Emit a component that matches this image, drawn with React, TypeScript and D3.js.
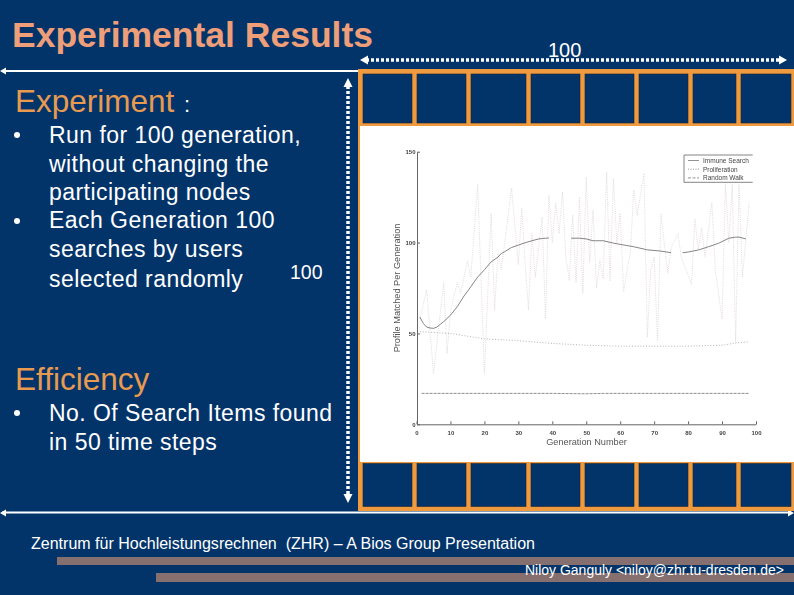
import React, { useEffect, useRef } from 'react';
import * as d3 from 'd3';

const bodyLines = [
  'Run for 100 generation,',
  'without changing the',
  'participating nodes',
  'Each Generation 100',
  'searches by users',
  'selected randomly',
];
const efficiencyLines = ['No. Of Search Items found', 'in 50 time steps'];
const xTicks = [0, 10, 20, 30, 40, 50, 60, 70, 80, 90, 100];
const yTicks = [0, 50, 100, 150];
const legendLabels = ['Immune Search', 'Proliferation', 'Random Walk'];

// the gaps are where the curve disappears behind the noise
const immuneGens = [1, 2, 3, 4, 5, 6, 7, 8, 10, 12, 14, 16, 18, 20, 22, 24, 25, 26, 28, 30, 32, 34, 36, 38, 39];
const immuneVals = [59, 55.5, 53.5, 53, 52.8, 53.5, 55, 56.5, 60, 64.7, 70.6, 75.7, 81, 85, 89.4, 92, 94, 95, 97.3, 98.6, 99.9, 101, 102, 102.4, 102.5];
const immuneGens2 = [45.6, 48, 50, 52, 55, 58, 60, 64, 68, 72, 75];
const immuneVals2 = [102.4, 102.4, 102, 101, 101, 99.7, 99, 97.7, 96, 95.3, 94.4];
const immuneGens3 = [78.4, 80, 83, 86, 89, 92, 94, 95, 97];
const immuneVals3 = [94.4, 94.8, 95.9, 97.7, 99.6, 102.4, 103, 103, 102];

const noisyGens = [1, 3, 5, 8, 9, 10, 12, 13, 15, 16, 18, 20, 22, 23, 24, 25, 28, 30, 31, 32, 33, 34, 35, 37, 38, 39, 40, 41, 42, 43, 44, 45, 46, 47, 48, 49, 50, 51, 52, 53, 54, 55, 56, 57, 58, 59, 60, 61, 63, 64, 65, 67, 68, 69, 70, 71, 72, 74, 75, 77, 78, 81, 82, 83, 84, 85, 87, 88, 90, 91, 92, 93, 94, 95, 96, 98];
const noisyVals = [58, 74, 28, 78, 39, 62, 78, 72, 90, 81, 132, 28, 116, 63, 94, 85, 130, 88, 119, 88, 63, 105, 81, 114, 58, 126, 100, 122, 105, 128, 92, 79, 115, 78, 125, 72, 136, 89, 118, 75, 90, 80, 139, 79, 135, 100, 116, 73, 95, 129, 115, 138, 48, 85, 92, 46, 116, 83, 97, 105, 92, 77, 113, 96, 108, 92, 122, 85, 58, 132, 100, 132, 45, 132, 81, 122];

const flatGens = [1, 10, 20, 30, 40, 50, 60, 70, 80, 90, 94, 98];
const flatVals = [51, 50, 47, 46, 44.5, 43.5, 43, 43, 43, 43.5, 44.7, 45.5];

const walkGens = [1.5, 20, 40, 50, 55, 70, 98];
const walkVals = [17, 17, 17, 16.8, 17, 17, 17];

const cellEdges = [363, 412, 417, 466, 471, 526, 531, 580, 585, 634, 639, 688, 693, 736, 741, 791];

const NAVY = '#02346a';
const ORANGE = '#f09a40';
const BODY = 'Liberation Sans, Arial, sans-serif';

export default function App() {
  const svgRef = useRef<SVGSVGElement>(null);

  useEffect(() => {
    if (!svgRef.current) return;
    const svg = d3.select(svgRef.current);
    svg.selectAll('*').remove();
    svg.attr('font-family', BODY);

    const defs = svg.append('defs');
    defs.append('filter').attr('id', 'soft').append('feGaussianBlur').attr('stdDeviation', 0.3);

    svg.append('rect').attr('width', 794).attr('height', 595).attr('fill', NAVY);

    // slide text
    const text = (x: number, y: number, s: string, size: number, fill = '#fff') =>
      svg.append('text').attr('x', x).attr('y', y).attr('font-size', size).attr('fill', fill).text(s);

    text(12, 47, 'Experimental Results', 35.5, '#ee9e78').attr('font-weight', 'bold');
    text(15, 112, 'Experiment', 31.5, '#e89a50');
    text(184, 112, ':', 22);
    const baselines = [143, 172, 200, 228, 257, 287];
    bodyLines.forEach((l, i) => text(49, baselines[i], l, 23, '#fff').attr('letter-spacing', 0.45));
    text(290, 279, '100', 19.5);
    text(15, 390, 'Efficiency', 31.5, '#e89a50');
    text(49, 421, efficiencyLines[0], 23).attr('letter-spacing', 0.45);
    text(49, 450, efficiencyLines[1], 23).attr('letter-spacing', 0.45);
    [135, 221, 413].forEach(y => svg.append('circle').attr('cx', 17).attr('cy', y).attr('r', 3).attr('fill', '#fff'));
    text(548, 57, '100', 20);

    // rules and arrows
    const arrow = (pts: [number, number][]) =>
      svg.append('path').attr('d', d3.line()(pts) + 'Z').attr('fill', '#fff');
    svg.append('line').attr('x1', 2).attr('x2', 360).attr('y1', 71).attr('y2', 71).attr('stroke', '#fff').attr('stroke-width', 2);
    svg.append('line').attr('x1', 2).attr('x2', 790).attr('y1', 512.5).attr('y2', 512.5).attr('stroke', '#fff').attr('stroke-width', 2);
    arrow([[0, 71], [6, 67.5], [6, 74.5]]);
    arrow([[0, 513], [6, 509.5], [6, 516.5]]);
    arrow([[794, 513], [788, 509.5], [788, 516.5]]);
    svg.append('line').attr('x1', 366).attr('x2', 780).attr('y1', 60).attr('y2', 60)
      .attr('stroke', '#fff').attr('stroke-width', 3.5).attr('stroke-dasharray', '3 2');
    arrow([[360, 60], [368, 55.5], [368, 64.5]]);
    arrow([[787, 60], [779, 55.5], [779, 64.5]]);
    svg.append('line').attr('x1', 348).attr('x2', 348).attr('y1', 86).attr('y2', 495)
      .attr('stroke', '#fff').attr('stroke-width', 3.5).attr('stroke-dasharray', '3 2');
    arrow([[348, 78], [343.5, 87], [352.5, 87]]);
    arrow([[348, 503], [343.5, 494], [352.5, 494]]);

    // orange frame with the two rows of cells
    svg.append('rect').attr('x', 358).attr('y', 69).attr('width', 436).attr('height', 442).attr('fill', ORANGE);
    svg.append('rect').attr('x', 360).attr('y', 126).attr('width', 434).attr('height', 336).attr('fill', '#fff');
    d3.range(0, cellEdges.length, 2).forEach(i => {
      [[74, 49], [463.5, 43]].forEach(([y, h]) => {
        svg.append('rect').attr('x', cellEdges[i]).attr('y', y)
          .attr('width', cellEdges[i + 1] - cellEdges[i]).attr('height', h)
          .attr('fill', NAVY).attr('stroke', '#1a2433').attr('stroke-width', 0.6);
      });
    });

    // plot
    const x = d3.scaleLinear().domain([0, 100]).range([416.5, 756]);
    const y = d3.scaleLinear().domain([0, 150]).range([424.3, 151.7]);
    const plot = svg.append('g').attr('filter', 'url(#soft)');

    const drawSeries = (gens: number[], vals: number[], stroke: string, width: number, dash: string) => {
      const line = d3.line<number>().x(d => x(d)).y((_, i) => y(vals[i]));
      plot.append('path').attr('d', line(gens)).attr('fill', 'none')
        .attr('stroke', stroke).attr('stroke-width', width).attr('stroke-dasharray', dash);
    };

    drawSeries(noisyGens, noisyVals, '#dcd0d3', 0.8, '1 1.2');
    drawSeries(flatGens, flatVals, '#a0a0a0', 0.8, '1 1.8');
    drawSeries(walkGens, walkVals, '#707070', 0.8, '3 1');
    drawSeries(immuneGens, immuneVals, '#666', 0.8, '');
    drawSeries(immuneGens2, immuneVals2, '#666', 0.8, '');
    drawSeries(immuneGens3, immuneVals3, '#666', 0.8, '');

    const xAxis = plot.append('g').attr('transform', 'translate(0,424.3)')
      .call(d3.axisBottom(x).tickValues(xTicks).tickSizeInner(-3).tickSizeOuter(0).tickPadding(6));
    const yAxis = plot.append('g').attr('transform', 'translate(417,0)')
      .call(d3.axisLeft(y).tickValues(yTicks).tickSizeInner(-3).tickSizeOuter(0).tickPadding(1.5));
    [xAxis, yAxis].forEach(a => {
      a.attr('color', '#666');
      a.selectAll('text').attr('font-family', BODY).attr('font-size', 6).attr('fill', '#444').attr('font-weight', 'bold');
    });

    plot.append('text').attr('x', 586.5).attr('y', 445).attr('text-anchor', 'middle')
      .attr('font-size', 9.2).attr('fill', '#555').text('Generation Number');
    plot.append('text').attr('transform', 'translate(400,288) rotate(-90)').attr('text-anchor', 'middle')
      .attr('font-size', 9.2).attr('fill', '#555').text('Profile Matched Per Generation');

    // legend
    const legend = plot.append('g');
    legend.append('path').attr('d', 'M752.7,155H684V182.3H752.7').attr('fill', 'none').attr('stroke', '#666').attr('stroke-width', 0.8);
    const dashes = ['', '1 1.5', '3 1.5'];
    legendLabels.forEach((l, i) => {
      const ly = 160.5 + i * 8.7;
      legend.append('line').attr('x1', 688).attr('x2', 699).attr('y1', ly).attr('y2', ly)
        .attr('stroke', '#777').attr('stroke-width', 0.8).attr('stroke-dasharray', dashes[i]);
      legend.append('text').attr('x', 703).attr('y', ly + 2.3).attr('font-size', 6.5).attr('fill', '#444').text(l);
    });

    // footer
    svg.append('rect').attr('x', 57).attr('y', 557).attr('width', 737).attr('height', 8).attr('fill', '#86706f');
    svg.append('rect').attr('x', 156).attr('y', 573).attr('width', 638).attr('height', 9).attr('fill', '#86706f');
    text(31, 549, 'Zentrum für Hochleistungsrechnen  (ZHR) – A Bios Group Presentation', 16)
      .attr('xml:space', 'preserve').attr('textLength', 504).attr('lengthAdjust', 'spacingAndGlyphs');
    text(525, 575, 'Niloy Ganguly <niloy@zhr.tu-dresden.de>', 14)
      .attr('textLength', 259).attr('lengthAdjust', 'spacingAndGlyphs');
  }, []);

  return <svg ref={svgRef} width={794} height={595} style={{ position: 'absolute', left: 0, top: 0 }} />;
}
